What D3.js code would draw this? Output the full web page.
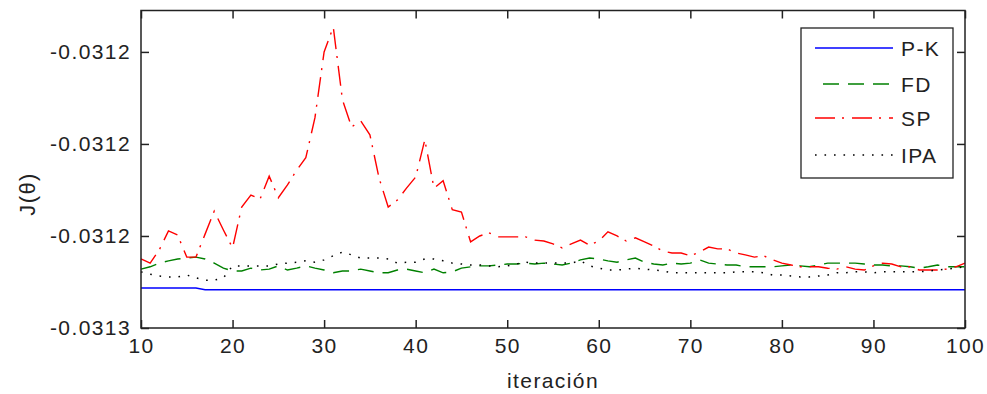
<!DOCTYPE html>
<html>
<head>
<meta charset="utf-8">
<script src="https://d3js.org/d3.v7.min.js"></script>
<style>
  body { margin: 0; background: #fff; }
  svg text { font-family: "Liberation Sans", Arial, sans-serif; fill: #222; letter-spacing: 1.4px; }
  .axis .domain { stroke: none; }
  .axis line { stroke: #222; stroke-width: 1.5; }
  .axis text { font-size: 21px; }
</style>
</head>
<body>
<script>
// iteration 10..100
const iterations = d3.range(10, 101);

const seriesNames = ['P-K', 'FD', 'SP', 'IPA'];

const pkVals = [
  -0.0312513, -0.0312513, -0.0312513, -0.0312513, -0.0312513, -0.0312513, -0.0312513,
  -0.0312517, -0.0312517, -0.0312517, -0.0312517, -0.0312517, -0.0312517, -0.0312517, -0.0312517, -0.0312517, -0.0312517,
  -0.0312517, -0.0312517, -0.0312517, -0.0312517, -0.0312517, -0.0312517, -0.0312517, -0.0312517, -0.0312517, -0.0312517,
  -0.0312517, -0.0312517, -0.0312517, -0.0312517, -0.0312517, -0.0312517, -0.0312517, -0.0312517, -0.0312517, -0.0312517,
  -0.0312517, -0.0312517, -0.0312517, -0.0312517, -0.0312517, -0.0312517, -0.0312517, -0.0312517, -0.0312517, -0.0312517,
  -0.0312517, -0.0312517, -0.0312517, -0.0312517, -0.0312517, -0.0312517, -0.0312517, -0.0312517, -0.0312517, -0.0312517,
  -0.0312517, -0.0312517, -0.0312517, -0.0312517, -0.0312517, -0.0312517, -0.0312517, -0.0312517, -0.0312517, -0.0312517,
  -0.0312517, -0.0312517, -0.0312517, -0.0312517, -0.0312517, -0.0312517, -0.0312517, -0.0312517, -0.0312517, -0.0312517,
  -0.0312517, -0.0312517, -0.0312517, -0.0312517, -0.0312517, -0.0312517, -0.0312517, -0.0312517, -0.0312517, -0.0312517,
  -0.0312517, -0.0312517, -0.0312517, -0.0312517
];

const fdVals = [
  -0.0312472, -0.0312467, -0.0312459, -0.0312454, -0.0312450, -0.0312448, -0.0312446, -0.0312450, -0.0312459, -0.0312470,
  -0.0312476, -0.0312476, -0.0312470, -0.0312474, -0.0312472, -0.0312465, -0.0312474, -0.0312470, -0.0312465, -0.0312470,
  -0.0312474, -0.0312480, -0.0312476, -0.0312476, -0.0312472, -0.0312476, -0.0312480, -0.0312480, -0.0312474, -0.0312472,
  -0.0312476, -0.0312480, -0.0312472, -0.0312480, -0.0312478, -0.0312470, -0.0312467, -0.0312465, -0.0312465, -0.0312463,
  -0.0312461, -0.0312461, -0.0312459, -0.0312461, -0.0312459, -0.0312461, -0.0312463, -0.0312459, -0.0312452, -0.0312448,
  -0.0312450, -0.0312454, -0.0312457, -0.0312452, -0.0312448, -0.0312457, -0.0312461, -0.0312463, -0.0312459, -0.0312461,
  -0.0312459, -0.0312452, -0.0312459, -0.0312461, -0.0312463, -0.0312463, -0.0312467, -0.0312467, -0.0312467, -0.0312467,
  -0.0312465, -0.0312463, -0.0312465, -0.0312467, -0.0312463, -0.0312459, -0.0312459, -0.0312459, -0.0312459, -0.0312461,
  -0.0312463, -0.0312463, -0.0312465, -0.0312465, -0.0312467, -0.0312470, -0.0312467, -0.0312463, -0.0312467, -0.0312467,
  -0.0312467
];

const spVals = [
  -0.0312450, -0.0312459, -0.0312430, -0.0312389, -0.0312398, -0.0312446, -0.0312446, -0.0312396, -0.0312346, -0.0312387,
  -0.0312426, -0.0312337, -0.0312311, -0.0312320, -0.0312270, -0.0312317, -0.0312289, -0.0312257, -0.0312230, -0.0312143,
  -0.0312000, -0.0311946, -0.0312104, -0.0312163, -0.0312150, -0.0312180, -0.0312274, -0.0312337, -0.0312322, -0.0312296,
  -0.0312272, -0.0312191, -0.0312296, -0.0312280, -0.0312343, -0.0312348, -0.0312413, -0.0312400, -0.0312393, -0.0312402,
  -0.0312402, -0.0312402, -0.0312402, -0.0312409, -0.0312411, -0.0312417, -0.0312426, -0.0312417, -0.0312409, -0.0312420,
  -0.0312411, -0.0312391, -0.0312400, -0.0312411, -0.0312404, -0.0312413, -0.0312422, -0.0312433, -0.0312437, -0.0312437,
  -0.0312443, -0.0312435, -0.0312424, -0.0312428, -0.0312428, -0.0312437, -0.0312441, -0.0312446, -0.0312443, -0.0312452,
  -0.0312459, -0.0312463, -0.0312467, -0.0312467, -0.0312467, -0.0312470, -0.0312472, -0.0312467, -0.0312472, -0.0312474,
  -0.0312465, -0.0312459, -0.0312461, -0.0312467, -0.0312467, -0.0312474, -0.0312474, -0.0312474, -0.0312472, -0.0312467,
  -0.0312459
];

const ipaVals = [
  -0.0312478, -0.0312483, -0.0312487, -0.0312489, -0.0312489, -0.0312485, -0.0312491, -0.0312496, -0.0312496, -0.0312491,
  -0.0312465, -0.0312465, -0.0312465, -0.0312465, -0.0312465, -0.0312461, -0.0312459, -0.0312457, -0.0312454, -0.0312457,
  -0.0312452, -0.0312443, -0.0312435, -0.0312441, -0.0312448, -0.0312448, -0.0312448, -0.0312450, -0.0312459, -0.0312457,
  -0.0312457, -0.0312450, -0.0312450, -0.0312454, -0.0312459, -0.0312461, -0.0312463, -0.0312463, -0.0312465, -0.0312467,
  -0.0312465, -0.0312461, -0.0312457, -0.0312459, -0.0312459, -0.0312459, -0.0312459, -0.0312459, -0.0312454, -0.0312465,
  -0.0312470, -0.0312474, -0.0312474, -0.0312472, -0.0312470, -0.0312472, -0.0312474, -0.0312476, -0.0312480, -0.0312480,
  -0.0312480, -0.0312480, -0.0312480, -0.0312480, -0.0312480, -0.0312478, -0.0312478, -0.0312478, -0.0312480, -0.0312485,
  -0.0312485, -0.0312487, -0.0312489, -0.0312489, -0.0312487, -0.0312485, -0.0312480, -0.0312480, -0.0312478, -0.0312478,
  -0.0312480, -0.0312478, -0.0312478, -0.0312478, -0.0312478, -0.0312478, -0.0312476, -0.0312474, -0.0312472, -0.0312470,
  -0.0312467
];

const xTicks = [10, 20, 30, 40, 50, 60, 70, 80, 90, 100];
const yTicks = [-0.03126, -0.03124, -0.03122, -0.03120];
const yTickLabels = ['-0.0313', '-0.0312', '-0.0312', '-0.0312'];

const width = 987, height = 394;
const margins = {top: 10.5, right: 22, bottom: 66, left: 141};
const chartWidth = width - margins.left - margins.right;
const chartHeight = height - margins.top - margins.bottom;

let svg = d3.select('body').append('svg')
  .attr('width', width)
  .attr('height', height);

let chart = svg.append('g')
  .attr('transform', `translate(${margins.left},${margins.top})`);

let xScale = d3.scaleLinear().domain([10, 100]).range([0, chartWidth]);
let yScale = d3.scaleLinear().domain([-0.03126, -0.031191]).range([chartHeight, 0]);

// axes, ticks pointing inward (matlab style)
chart.append('g')
  .attr('class', 'axis')
  .attr('transform', `translate(0,${chartHeight})`)
  .call(d3.axisBottom(xScale).tickValues(xTicks).tickSize(-8).tickPadding(10));

chart.append('g')
  .attr('class', 'axis')
  .call(d3.axisTop(xScale).tickValues(xTicks).tickSize(-8).tickFormat(''));

chart.append('g')
  .attr('class', 'axis')
  .call(d3.axisLeft(yScale).tickValues(yTicks).tickSize(-8).tickPadding(10)
    .tickFormat((d, i) => yTickLabels[i]));

chart.append('g')
  .attr('class', 'axis')
  .attr('transform', `translate(${chartWidth},0)`)
  .call(d3.axisRight(yScale).tickValues(yTicks).tickSize(-8).tickFormat(''));

const styles = {
  'P-K': {values: pkVals, color: '#0000ff', dash: null, w: 1.4},
  'FD':  {values: fdVals, color: '#008000', dash: '16,9', w: 1.4},
  'SP':  {values: spVals, color: '#ff0000', dash: '20,7,2,8', w: 1.4},
  'IPA': {values: ipaVals, color: '#000000', dash: '1.6,7.9', w: 1.5}
};

let line = d3.line()
  .x(d => xScale(d[0]))
  .y(d => yScale(d[1]));

let plotArea = chart.append('g');

seriesNames.forEach(name => {
  let s = styles[name];
  plotArea.append('path')
    .datum(iterations.map((it, i) => [it, s.values[i]]))
    .attr('fill', 'none')
    .attr('stroke', s.color)
    .attr('stroke-width', s.w)
    .attr('stroke-dasharray', s.dash)
    .attr('d', line);
});

// frame
chart.append('rect')
  .attr('width', chartWidth)
  .attr('height', chartHeight)
  .attr('fill', 'none')
  .attr('stroke', '#222')
  .attr('stroke-width', 1.5);

// legend
let legend = svg.append('g').attr('transform', 'translate(801,28)');
legend.append('rect')
  .attr('width', 152)
  .attr('height', 150)
  .attr('fill', '#fff')
  .attr('stroke', '#222')
  .attr('stroke-width', 1.3);

const legendRows = [20, 56, 90, 127];
seriesNames.forEach((name, i) => {
  let s = styles[name];
  let offset = name === 'FD' ? 8 : 0;
  legend.append('line')
    .attr('x1', 14 + offset).attr('x2', 92)
    .attr('y1', legendRows[i]).attr('y2', legendRows[i])
    .attr('stroke', s.color)
    .attr('stroke-width', s.w)
    .attr('stroke-dasharray', s.dash);
  legend.append('text')
    .attr('x', 100)
    .attr('y', legendRows[i] + 7.5)
    .attr('font-size', '21px')
    .text(name);
});

// axis labels
svg.append('text')
  .attr('x', margins.left + chartWidth / 2)
  .attr('y', 388)
  .attr('text-anchor', 'middle')
  .attr('font-size', '21px')
  .text('iteración');

svg.append('text')
  .attr('transform', 'translate(35,194) rotate(-90)')
  .attr('text-anchor', 'middle')
  .attr('font-size', '22px')
  .text('J(θ)');
</script>
</body>
</html>
